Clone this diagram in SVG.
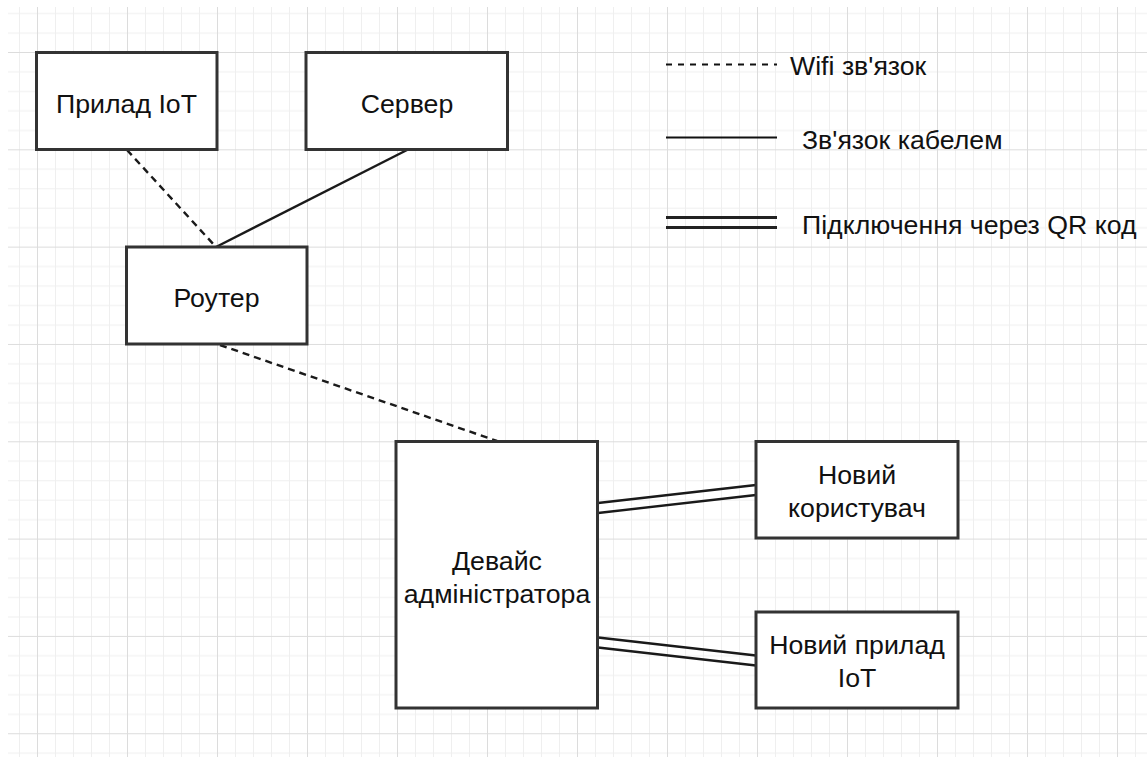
<svg xmlns="http://www.w3.org/2000/svg" width="1147" height="757" viewBox="0 0 1147 757">
  <style>
    .box { fill: #ffffff; stroke: #333333; stroke-width: 3; }
    .lbl { font-family: "Liberation Sans", Arial, sans-serif; font-size: 26.7px; fill: #111111; text-anchor: middle; }
    .leg { font-family: "Liberation Sans", Arial, sans-serif; font-size: 26.7px; fill: #111111; }
    .wifi { fill: none; stroke: #1a1a1a; stroke-width: 2.4; stroke-dasharray: 7 5; }
    .cable { fill: none; stroke: #1a1a1a; stroke-width: 2.4; }
    .qr { fill: none; stroke: #1a1a1a; stroke-width: 2.4; }
  </style>
  <defs>
    <pattern id="grid" patternUnits="userSpaceOnUse" x="37" y="52" width="90" height="97.32">
      <g stroke="#efefef" stroke-width="1">
        <line x1="18.5" y1="0" x2="18.5" y2="97.32"/>
        <line x1="36.5" y1="0" x2="36.5" y2="97.32"/>
        <line x1="54.5" y1="0" x2="54.5" y2="97.32"/>
        <line x1="72.5" y1="0" x2="72.5" y2="97.32"/>
        <line x1="0" y1="19.96" x2="90" y2="19.96"/>
        <line x1="0" y1="39.43" x2="90" y2="39.43"/>
        <line x1="0" y1="58.89" x2="90" y2="58.89"/>
        <line x1="0" y1="78.36" x2="90" y2="78.36"/>
      </g>
      <g stroke="#dcdcdc" stroke-width="1">
        <line x1="0.5" y1="0" x2="0.5" y2="97.32"/>
        <line x1="0" y1="0.5" x2="90" y2="0.5"/>
      </g>
    </pattern>
  </defs>
  <rect x="0" y="0" width="1147" height="757" fill="#ffffff"/>
  <rect x="8" y="7" width="1139" height="750" fill="url(#grid)"/>

  <g id="connectors">
    <line class="wifi" x1="127" y1="150" x2="216" y2="247"/>
    <line class="cable" x1="407" y1="150" x2="216" y2="247"/>
    <line class="wifi" x1="220" y1="345" x2="497" y2="441"/>
    <line class="qr" x1="598" y1="503" x2="756" y2="485"/>
    <line class="qr" x1="598" y1="513" x2="756" y2="495"/>
    <line class="qr" x1="598" y1="637.5" x2="756" y2="655.5"/>
    <line class="qr" x1="598" y1="647.5" x2="756" y2="665.5"/>
  </g>

  <g id="node-iot">
    <rect class="box" x="36.5" y="52.5" width="180.5" height="97"/>
    <text class="lbl" x="126.5" y="112.5">Прилад IoT</text>
  </g>
  <g id="node-server">
    <rect class="box" x="306" y="52.5" width="201.5" height="97"/>
    <text class="lbl" x="407" y="112.5">Сервер</text>
  </g>
  <g id="node-router">
    <rect class="box" x="126.5" y="247" width="180.5" height="97"/>
    <text class="lbl" x="216.5" y="306.5">Роутер</text>
  </g>
  <g id="node-admin">
    <rect class="box" x="396" y="441.5" width="201.5" height="266.5"/>
    <text class="lbl" x="497" y="570">Девайс</text>
    <text class="lbl" x="497" y="603">адміністратора</text>
  </g>
  <g id="node-new-user">
    <rect class="box" x="756" y="441.5" width="202" height="96.5"/>
    <text class="lbl" x="857" y="483.5">Новий</text>
    <text class="lbl" x="857" y="517">користувач</text>
  </g>
  <g id="node-new-iot">
    <rect class="box" x="756" y="612" width="202" height="96"/>
    <text class="lbl" x="857" y="653.5">Новий прилад</text>
    <text class="lbl" x="857" y="687">IoT</text>
  </g>

  <g id="legend">
    <line x1="666" y1="64.5" x2="777" y2="64.5" stroke="#111111" stroke-width="1.8" stroke-dasharray="6 6"/>
    <text class="leg" x="790" y="75">Wifi зв'язок</text>
    <line x1="666" y1="137.5" x2="777" y2="137.5" stroke="#111111" stroke-width="2.2"/>
    <text class="leg" x="802" y="148.5">Зв'язок кабелем</text>
    <line x1="666" y1="217.5" x2="777" y2="217.5" stroke="#222222" stroke-width="2.8"/>
    <line x1="666" y1="227.5" x2="777" y2="227.5" stroke="#222222" stroke-width="2.8"/>
    <text class="leg" x="802" y="234">Підключення через QR код</text>
  </g>
</svg>
